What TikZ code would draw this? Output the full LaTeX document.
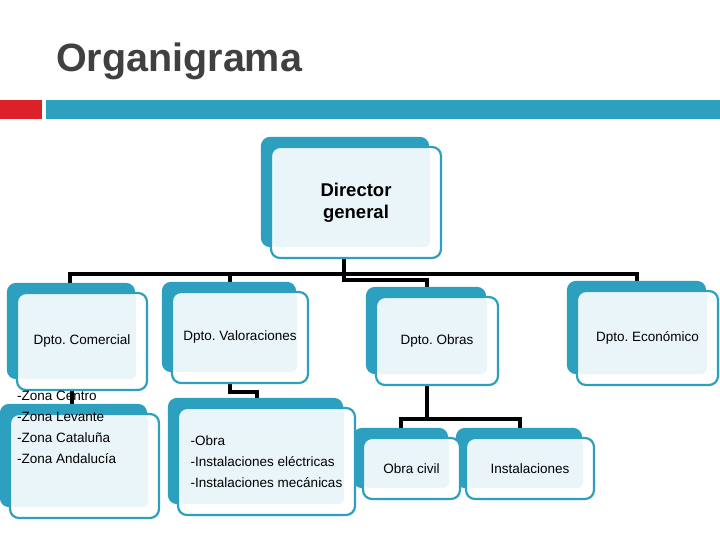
\documentclass[tikz,border=0pt]{standalone}
\usepackage{fontspec}
\setmainfont{Liberation Sans}
\usetikzlibrary{backgrounds}
\frenchspacing
\definecolor{tealc}{HTML}{2EA0BF}
\definecolor{lightc}{HTML}{EAF5F9}
\definecolor{redc}{HTML}{DD2129}
\definecolor{titlegray}{HTML}{404040}
\tikzset{
  frontbox/.style={draw=tealc, line width=2.2pt, fill=white, rounded corners=9pt,
    inner sep=2pt, align=center, font=\fontsize{13.5}{21}\selectfont,
    path picture={\fill[lightc, rounded corners=6pt] (path picture bounding box.north west) rectangle ([xshift=-11pt,yshift=11pt]path picture bounding box.south east);}},
  backfill/.style={fill=tealc, rounded corners=9pt},
  conn/.style={draw=black, line width=3.3pt},
  listtext/.style={align=left, inner sep=2pt, font=\fontsize{13.5}{21}\selectfont},
}
\newcommand\backbox[1]{\fill[backfill] ([xshift=-9pt,yshift=9pt]#1.north west) rectangle ([xshift=-13pt,yshift=12pt]#1.south east);}
\begin{document}
\begin{tikzpicture}[x=1pt,y=-1pt]
\useasboundingbox (0,0) rectangle (720,540);
% title and bars
\node[anchor=base west, inner sep=0pt, text=titlegray, font=\bfseries\fontsize{39.5}{44}\selectfont] (title) at (56,72) {Organigrama};
\fill[redc] (0,100) rectangle (42,119);
\fill[tealc] (46,100) rectangle (720,119);
% boxes
\node[frontbox, minimum width=170pt, minimum height=111pt, font=\bfseries\fontsize{18.5}{22}\selectfont] (dir) at (356,202.5) {Director\\general};
\node[frontbox, minimum width=130pt, minimum height=97pt] (com) at (82,341.5) {Dpto. Comercial};
\node[frontbox, minimum width=136pt, minimum height=91pt] (val) at (240,337.5) {Dpto. Valoraciones};
\node[frontbox, minimum width=122pt, minimum height=88pt] (obr) at (437,341) {Dpto. Obras};
\node[frontbox, minimum width=141pt, minimum height=94pt] (eco) at (647.5,338) {Dpto. Económico};
\node[frontbox, minimum width=149pt, minimum height=104pt] (zon) at (84.5,466) {};
\node[frontbox, minimum width=177pt, minimum height=107pt, align=left] (vch) at (266.5,461.5) {-Obra\\-Instalaciones eléctricas\\-Instalaciones mecánicas};
\node[frontbox, minimum width=97pt, minimum height=61pt] (civ) at (411.5,468.5) {Obra civil};
\node[frontbox, minimum width=128pt, minimum height=61pt] (ins) at (530,468.5) {Instalaciones};
\node[listtext, anchor=west] (zont) at (15,427) {-Zona Centro\\-Zona Levante\\-Zona Cataluña\\-Zona Andalucía};
% connector bend points
\coordinate (b1) at (70,274);
\coordinate (b2) at (230,274);
\coordinate (b5) at (637,274);
\coordinate (dr1) at (344,280);
\coordinate (dr2) at (427,280);
\coordinate (c1) at (72,400);
\coordinate (v1) at (230,392);
\coordinate (v2) at (257,392);
\coordinate (o0) at (427,419);
\coordinate (o1) at (401,419);
\coordinate (o2) at (520,419);
\begin{pgfonlayer}{background}
\draw[conn] (b1 |- com.north) -- (b1) -- (b5) -- (b5 |- eco.north);
\draw[conn] (b2) -- (b2 |- val.north);
\draw[conn] (dr1 |- dir.south) -- (dr1) -- (dr2) -- (dr2 |- obr.north);
\draw[conn] (c1 |- com.south) -- (c1 |- zon.north);
\draw[conn] (v1 |- val.south) -- (v1) -- (v2) -- (v2 |- vch.north);
\draw[conn] (o0 |- obr.south) -- (o0);
\draw[conn] (o1 |- civ.north) -- (o1) -- (o2) -- (o2 |- ins.north);
\backbox{dir}
\backbox{com}
\backbox{val}
\backbox{obr}
\backbox{eco}
\backbox{zon}
\backbox{vch}
\backbox{civ}
\backbox{ins}
\end{pgfonlayer}
\end{tikzpicture}
\end{document}
